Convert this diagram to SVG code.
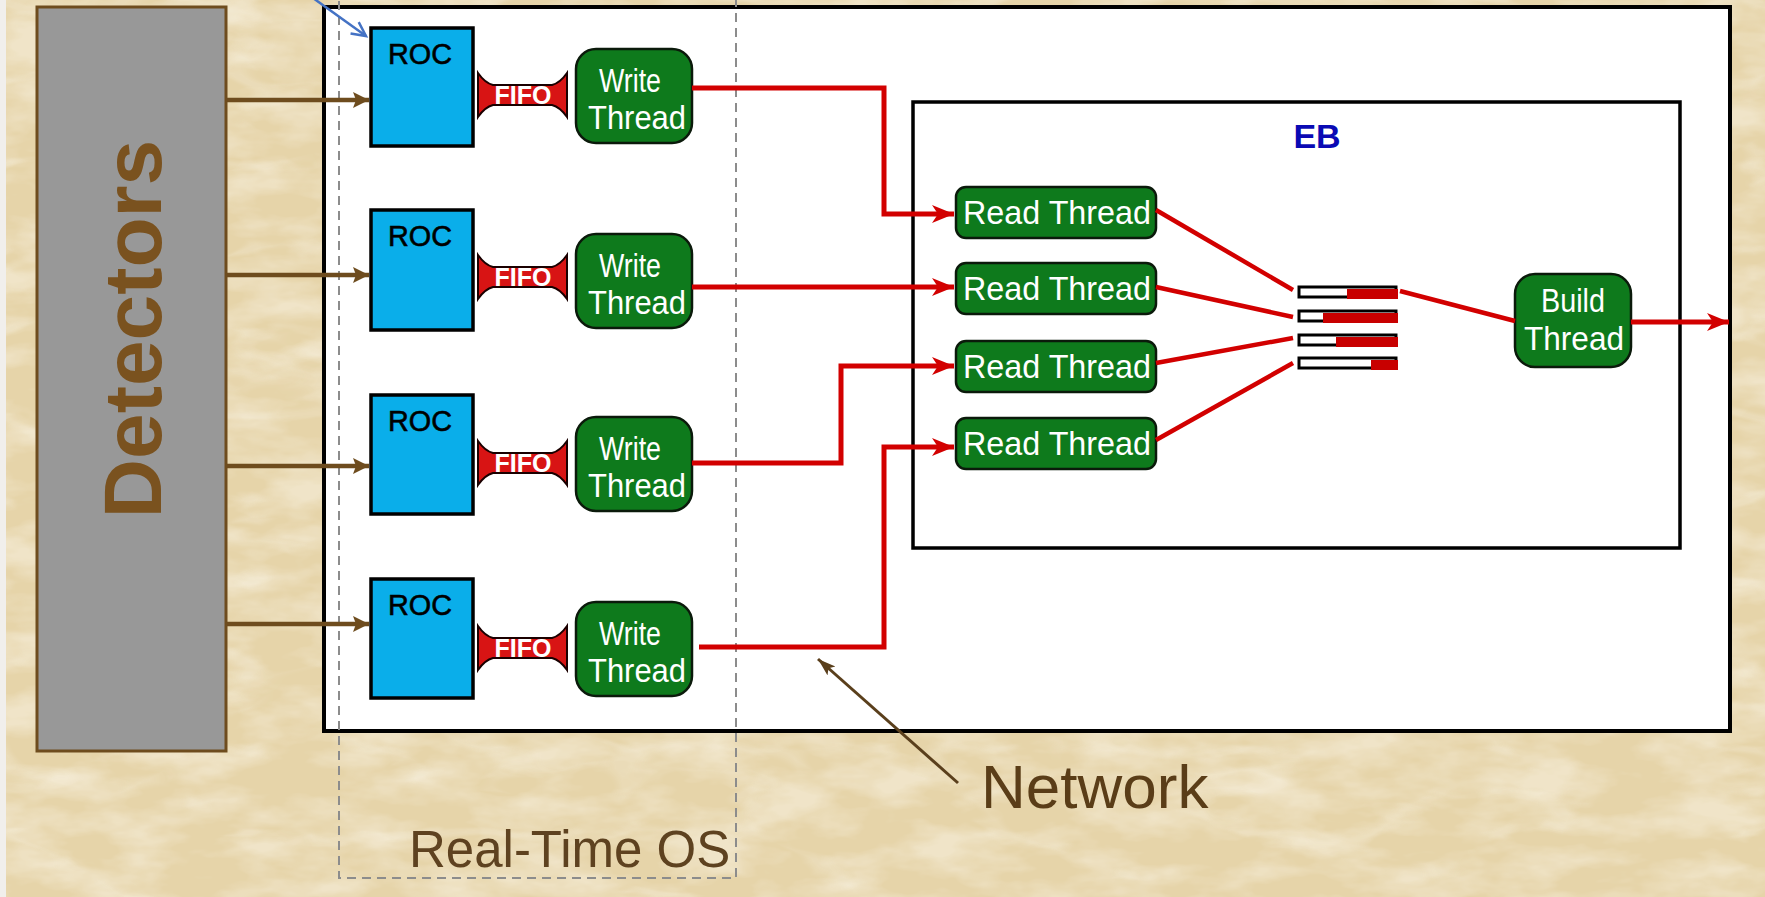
<svg xmlns="http://www.w3.org/2000/svg" width="1765" height="897" viewBox="0 0 1765 897">
  <defs>
    <style>
      .sans { font-family: "Liberation Sans", Arial, sans-serif; }
      .roc { fill: #0aaeea; stroke: #000; stroke-width: 3.5; }
      .roc-t { font-size: 30px; fill: #000; stroke: #000; stroke-width: 0.6; }
      .fifo { fill: #d81414; stroke: #1a0000; stroke-width: 2; }
      .fifo-t { font-size: 25px; font-weight: bold; fill: #fff; }
      .thr { fill: #0e7a1c; stroke: #0b1a0b; stroke-width: 2.5; }
      .thr-t { font-size: 33px; fill: #fff; text-anchor: middle; }
      .net { fill: none; stroke: #d20000; stroke-width: 5; stroke-linejoin: miter; }
      .feed { fill: none; stroke: #d20000; stroke-width: 4.5; }
      .det { fill: none; stroke: #6e4c1e; stroke-width: 4.5; }
      .buf { fill: #fff; stroke: #000; stroke-width: 3; }
      .buf-fill { fill: #c80000; }
    </style>
    <marker id="redHead" markerUnits="userSpaceOnUse" markerWidth="24" markerHeight="20" refX="22" refY="9" orient="auto">
      <path d="M0,0 L22,9 L0,18 L6,9 z" fill="#d20000"/>
    </marker>
    <marker id="brownHead" markerUnits="userSpaceOnUse" markerWidth="18" markerHeight="18" refX="16" refY="8" orient="auto">
      <path d="M0,0 L16,8 L0,16 L3,8 z" fill="#6e4c1e"/>
    </marker>
    <marker id="netHead" markerUnits="userSpaceOnUse" markerWidth="20" markerHeight="14" refX="18" refY="6" orient="auto">
      <path d="M0,0 L18,6 L0,12 L4,6 z" fill="#5a3f1c"/>
    </marker>
    <marker id="blueHead" markerUnits="userSpaceOnUse" markerWidth="20" markerHeight="20" refX="16" refY="8" orient="auto">
      <path d="M2,1 L16,8 L2,15" fill="none" stroke="#4472c4" stroke-width="2.5"/>
    </marker>
    <filter id="paper" x="0" y="0" width="100%" height="100%">
      <feTurbulence type="fractalNoise" baseFrequency="0.012 0.03" numOctaves="4" seed="11" result="n"/>
      <feColorMatrix in="n" type="matrix" values="0 0 0 0 1  0 0 0 0 0.98  0 0 0 0 0.93  0 0 0 -2.6 1.6"/>
    </filter>
    <filter id="fibres" x="0" y="0" width="100%" height="100%">
      <feTurbulence type="turbulence" baseFrequency="0.004 0.012" numOctaves="3" seed="3" result="t"/>
      <feColorMatrix in="t" type="matrix" values="0 0 0 0 1  0 0 0 0 1  0 0 0 0 0.97  0 0 0 -9 1.4"/>
    </filter>
  </defs>

  <!-- paper background -->
  <rect x="0" y="0" width="1765" height="897" fill="#e6d4a9"/>
  <rect x="0" y="0" width="1765" height="897" filter="url(#paper)" opacity="0.4"/>
  <rect x="0" y="0" width="1765" height="897" filter="url(#fibres)" opacity="0.18"/>
  <rect x="0" y="0" width="6" height="897" fill="#f1efec"/>

  <!-- outer network host box -->
  <rect id="host" x="324" y="7" width="1406" height="724" fill="#fff" stroke="#000" stroke-width="4"/>

  <!-- detectors -->
  <g id="detectors">
    <rect x="37" y="7" width="189" height="744" fill="#989898" stroke="#6e4c1e" stroke-width="3"/>
    <text class="sans" x="161" y="329" transform="rotate(-90 161 329)" text-anchor="middle" font-size="82" font-weight="bold" fill="#7a521f">Detectors</text>
  </g>

  <!-- event builder box -->
  <g id="eb">
    <rect x="913" y="102" width="767" height="446" fill="#fff" stroke="#000" stroke-width="3.5"/>
    <text class="sans" x="1317" y="148" text-anchor="middle" font-size="34" font-weight="bold" fill="#0a0ab4">EB</text>
  </g>

  <!-- readout controllers -->
  <g id="roc1"><rect class="roc" x="371" y="28" width="102" height="118"/><text class="sans roc-t" x="388" y="64" textLength="64" lengthAdjust="spacingAndGlyphs">ROC</text></g>
  <g id="roc2"><rect class="roc" x="371" y="210" width="102" height="120"/><text class="sans roc-t" x="388" y="246" textLength="64" lengthAdjust="spacingAndGlyphs">ROC</text></g>
  <g id="roc3"><rect class="roc" x="371" y="395" width="102" height="119"/><text class="sans roc-t" x="388" y="431" textLength="64" lengthAdjust="spacingAndGlyphs">ROC</text></g>
  <g id="roc4"><rect class="roc" x="371" y="579" width="102" height="119"/><text class="sans roc-t" x="388" y="615" textLength="64" lengthAdjust="spacingAndGlyphs">ROC</text></g>

  <!-- FIFOs -->
  <g id="fifo1" transform="translate(0,95)">
    <path class="fifo" d="M478,-22 L478,22 Q485,12 493,10 L552,10 Q560,12 567,22 L567,-22 Q560,-12 552,-10 L493,-10 Q485,-12 478,-22 z"/>
    <text class="sans fifo-t" x="523" y="9" text-anchor="middle" textLength="57" lengthAdjust="spacingAndGlyphs">FIFO</text>
  </g>
  <g id="fifo2" transform="translate(0,277)">
    <path class="fifo" d="M478,-22 L478,22 Q485,12 493,10 L552,10 Q560,12 567,22 L567,-22 Q560,-12 552,-10 L493,-10 Q485,-12 478,-22 z"/>
    <text class="sans fifo-t" x="523" y="9" text-anchor="middle" textLength="57" lengthAdjust="spacingAndGlyphs">FIFO</text>
  </g>
  <g id="fifo3" transform="translate(0,463)">
    <path class="fifo" d="M478,-22 L478,22 Q485,12 493,10 L552,10 Q560,12 567,22 L567,-22 Q560,-12 552,-10 L493,-10 Q485,-12 478,-22 z"/>
    <text class="sans fifo-t" x="523" y="9" text-anchor="middle" textLength="57" lengthAdjust="spacingAndGlyphs">FIFO</text>
  </g>
  <g id="fifo4" transform="translate(0,648)">
    <path class="fifo" d="M478,-22 L478,22 Q485,12 493,10 L552,10 Q560,12 567,22 L567,-22 Q560,-12 552,-10 L493,-10 Q485,-12 478,-22 z"/>
    <text class="sans fifo-t" x="523" y="9" text-anchor="middle" textLength="57" lengthAdjust="spacingAndGlyphs">FIFO</text>
  </g>

  <!-- write threads -->
  <g id="write1"><rect class="thr" x="576" y="49" width="116" height="94" rx="20"/><text class="sans thr-t" x="630" y="92" textLength="62" lengthAdjust="spacingAndGlyphs">Write</text><text class="sans thr-t" x="637" y="129" textLength="98" lengthAdjust="spacingAndGlyphs">Thread</text></g>
  <g id="write2"><rect class="thr" x="576" y="234" width="116" height="94" rx="20"/><text class="sans thr-t" x="630" y="277" textLength="62" lengthAdjust="spacingAndGlyphs">Write</text><text class="sans thr-t" x="637" y="314" textLength="98" lengthAdjust="spacingAndGlyphs">Thread</text></g>
  <g id="write3"><rect class="thr" x="576" y="417" width="116" height="94" rx="20"/><text class="sans thr-t" x="630" y="460" textLength="62" lengthAdjust="spacingAndGlyphs">Write</text><text class="sans thr-t" x="637" y="497" textLength="98" lengthAdjust="spacingAndGlyphs">Thread</text></g>
  <g id="write4"><rect class="thr" x="576" y="602" width="116" height="94" rx="20"/><text class="sans thr-t" x="630" y="645" textLength="62" lengthAdjust="spacingAndGlyphs">Write</text><text class="sans thr-t" x="637" y="682" textLength="98" lengthAdjust="spacingAndGlyphs">Thread</text></g>

  <!-- read threads -->
  <g id="read1"><rect class="thr" x="956" y="187" width="200" height="51" rx="10"/><text class="sans thr-t" x="1057" y="224" textLength="188" lengthAdjust="spacingAndGlyphs">Read Thread</text></g>
  <g id="read2"><rect class="thr" x="956" y="263" width="200" height="51" rx="10"/><text class="sans thr-t" x="1057" y="300" textLength="188" lengthAdjust="spacingAndGlyphs">Read Thread</text></g>
  <g id="read3"><rect class="thr" x="956" y="341" width="200" height="51" rx="10"/><text class="sans thr-t" x="1057" y="378" textLength="188" lengthAdjust="spacingAndGlyphs">Read Thread</text></g>
  <g id="read4"><rect class="thr" x="956" y="418" width="200" height="51" rx="10"/><text class="sans thr-t" x="1057" y="455" textLength="188" lengthAdjust="spacingAndGlyphs">Read Thread</text></g>

  <!-- build thread -->
  <g id="build"><rect class="thr" x="1515" y="274" width="116" height="93" rx="20"/><text class="sans thr-t" x="1573" y="312" textLength="64" lengthAdjust="spacingAndGlyphs">Build</text><text class="sans thr-t" x="1574" y="350" textLength="100" lengthAdjust="spacingAndGlyphs">Thread</text></g>

  <!-- event buffers -->
  <g id="buffers">
    <rect class="buf" x="1299" y="287" width="97" height="10"/><rect class="buf-fill" x="1347" y="289" width="51" height="10"/>
    <rect class="buf" x="1299" y="311" width="97" height="10"/><rect class="buf-fill" x="1323" y="313" width="75" height="10"/>
    <rect class="buf" x="1299" y="335" width="97" height="10"/><rect class="buf-fill" x="1336" y="337" width="62" height="10"/>
    <rect class="buf" x="1299" y="358" width="97" height="10"/><rect class="buf-fill" x="1371" y="360" width="27" height="10"/>
  </g>

  <!-- real-time OS boundary -->
  <g id="rtos">
    <rect x="339" y="-10" width="397" height="888" fill="none" stroke="#8c8c8c" stroke-width="2" stroke-dasharray="9 6"/>
    <text class="sans" x="409" y="867" font-size="51" fill="#5e4220">Real-Time OS</text>
  </g>

  <!-- network label -->
  <g id="network">
    <text class="sans" x="981" y="808" font-size="62" fill="#5a3d18">Network</text>
  </g>

  <!-- connectors -->
  <g id="connectors">
    <line class="det" x1="226" y1="100" x2="369" y2="100" marker-end="url(#brownHead)"/>
    <line class="det" x1="226" y1="275" x2="369" y2="275" marker-end="url(#brownHead)"/>
    <line class="det" x1="226" y1="466" x2="369" y2="466" marker-end="url(#brownHead)"/>
    <line class="det" x1="226" y1="624" x2="369" y2="624" marker-end="url(#brownHead)"/>

    <polyline class="net" points="692,88 884,88 884,214 954,214" marker-end="url(#redHead)"/>
    <polyline class="net" points="692,287 954,287" marker-end="url(#redHead)"/>
    <polyline class="net" points="692,463 841,463 841,366 954,366" marker-end="url(#redHead)"/>
    <polyline class="net" points="699,647 884,647 884,447 954,447" marker-end="url(#redHead)"/>

    <line class="feed" x1="1156" y1="210" x2="1293" y2="290"/>
    <line class="feed" x1="1156" y1="287" x2="1293" y2="317"/>
    <line class="feed" x1="1156" y1="363" x2="1293" y2="338"/>
    <line class="feed" x1="1156" y1="440" x2="1293" y2="363"/>
    <line class="feed" x1="1400" y1="291" x2="1515" y2="321"/>
    <line class="net" x1="1631" y1="322" x2="1729" y2="322" marker-end="url(#redHead)"/>

    <line x1="958" y1="783" x2="818" y2="659" stroke="#5a3f1c" stroke-width="3" marker-end="url(#netHead)"/>
    <line x1="313" y1="-2" x2="366" y2="36" stroke="#4472c4" stroke-width="2.5" marker-end="url(#blueHead)"/>
  </g>
</svg>
